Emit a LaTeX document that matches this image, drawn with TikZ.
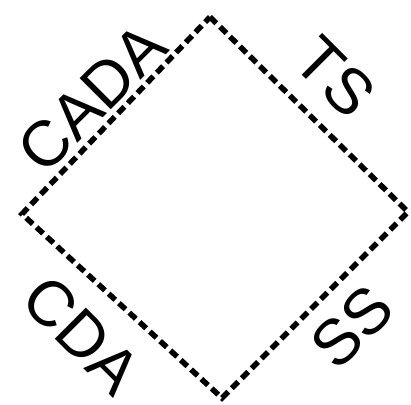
\documentclass[tikz,border=0pt]{standalone}
\usepackage{fontspec}
\setmainfont{Liberation Sans}
\usetikzlibrary{positioning}
\tikzset{
    sidelabel/.style={
        font={\fontsize{64pt}{64pt}\selectfont},
        inner sep=0pt
    },
    border/.style={draw, line width=5.5pt, dash pattern=on 9pt off 5pt},
}

\begin{document}
\begin{tikzpicture}[x=1pt,y=1pt]
\useasboundingbox (0,0) rectangle (411,404);
\coordinate (top) at (210,387);
\coordinate (right) at (408,192);
\coordinate (bottom) at (222,6);
\coordinate (left) at (22,190);

\draw[border] (top) -- (right) -- (bottom) -- (left) -- cycle;

\node[sidelabel,rotate=45] (cada) at (92,306) {CADA};
\node[sidelabel,rotate=-45] (ts) at (335,327) {TS};
\node[sidelabel,rotate=-45] (cda) at (82,69) {CDA};
\node[sidelabel,rotate=45] (ss) at (352,77) {SS};
\end{tikzpicture}
\end{document}
